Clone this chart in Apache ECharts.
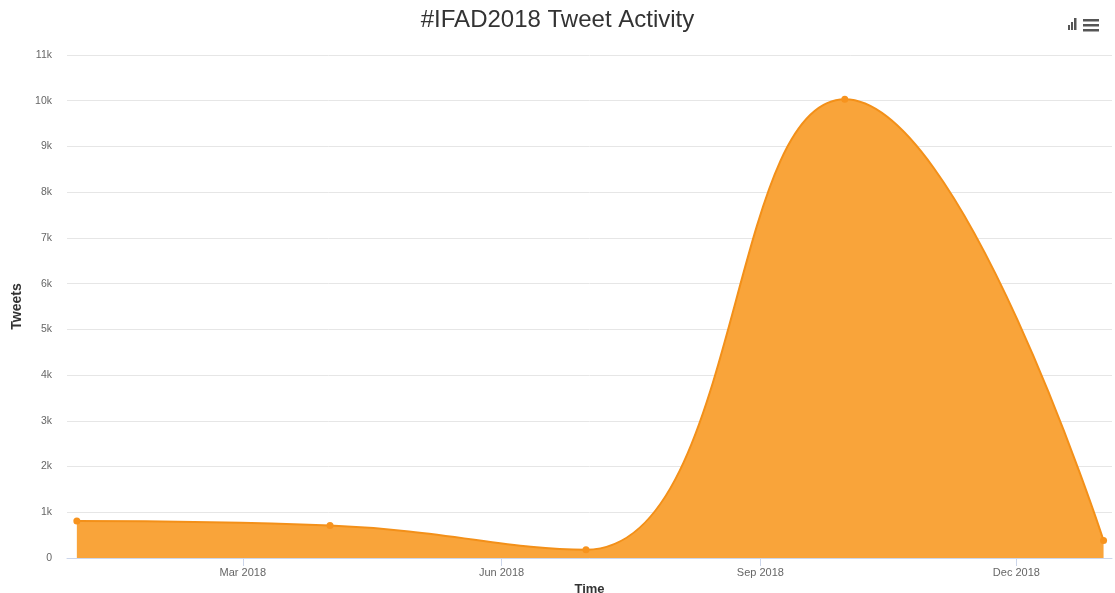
<!DOCTYPE html>
<html>
<head>
<meta charset="utf-8">
<script src="https://cdn.jsdelivr.net/npm/echarts@6/dist/echarts.min.js"></script>
<style>html,body{margin:0;padding:0;background:#fff;}#c{width:1115px;height:593px;}</style>
</head>
<body>
<div id="c"></div>
<script>
const dates = ['2018-01-01', '2018-04-01', '2018-07-01', '2018-10-01', '2019-01-01'];
const tweets = [810, 710, 180, 10030, 380];
const tickDates = ['2018-03-01', '2018-06-01', '2018-09-01', '2018-12-01'];
const tickLabels = ['Mar 2018', 'Jun 2018', 'Sep 2018', 'Dec 2018'];

const ts = s => new Date(s + 'T00:00:00Z').getTime();
const tickTs = tickDates.map(ts);
const day = 86400000;
const FONT = 'Liberation Sans, Arial, sans-serif';

const chart = echarts.init(document.getElementById('c'));
chart.setOption({
  animation: false,
  backgroundColor: '#fff',
  title: {
    text: '#IFAD2018 Tweet Activity',
    left: 'center', top: 3,
    textStyle: {fontFamily: FONT, fontSize: 24, fontWeight: 'normal', color: '#333'}
  },
  grid: {left: 67, right: 3, top: 55, bottom: 35, outerBoundsMode: 'none', containLabel: false},
  xAxis: {
    type: 'value',
    min: ts(dates[0]) - 3.5 * day,
    max: ts(dates[dates.length - 1]) + 3 * day,
    name: 'Time',
    nameLocation: 'middle',
    nameGap: 20,
    nameTextStyle: {fontFamily: FONT, fontSize: 13, fontWeight: 'bold', color: '#333'},
    axisLine: {lineStyle: {color: '#ccd6eb'}},
    axisTick: {show: true, customValues: tickTs, length: 8, lineStyle: {color: '#ccd6eb'}},
    axisLabel: {
      customValues: tickTs,
      formatter: v => { const i = tickTs.indexOf(v); return i >= 0 ? tickLabels[i] : ''; },
      fontFamily: FONT, fontSize: 11, color: '#666', margin: 9
    },
    splitLine: {show: false}
  },
  yAxis: {
    type: 'value',
    min: 0, max: 11000, interval: 1000,
    name: 'Tweets',
    nameLocation: 'middle',
    nameGap: 42,
    nameRotate: 90,
    nameTextStyle: {fontFamily: FONT, fontSize: 14, fontWeight: 'bold', color: '#333'},
    axisLine: {show: false},
    axisTick: {show: false},
    axisLabel: {
      formatter: v => v === 0 ? '0' : (v / 1000) + 'k',
      fontFamily: FONT, fontSize: 10.5, color: '#666', margin: 15
    },
    splitLine: {lineStyle: {color: '#e6e6e6'}}
  },
  series: [{
    type: 'line',
    data: dates.map((d, i) => [ts(d), tweets[i]]),
    smooth: 0.45,
    symbol: 'circle',
    symbolSize: 7,
    itemStyle: {color: '#f7931e'},
    lineStyle: {color: '#f39019', width: 2},
    areaStyle: {color: '#f9a43a', opacity: 1}
  }],
  graphic: [
    {type: 'rect', shape: {x: 1068, y: 25, width: 2, height: 5}, style: {fill: '#555'}},
    {type: 'rect', shape: {x: 1071, y: 22, width: 2, height: 8}, style: {fill: '#555'}},
    {type: 'rect', shape: {x: 1074, y: 18, width: 2.5, height: 12}, style: {fill: '#555'}},
    {type: 'rect', shape: {x: 1083, y: 19, width: 16, height: 2.5}, style: {fill: '#555'}},
    {type: 'rect', shape: {x: 1083, y: 24, width: 16, height: 2.5}, style: {fill: '#555'}},
    {type: 'rect', shape: {x: 1083, y: 29, width: 16, height: 2.5}, style: {fill: '#555'}}
  ]
});
</script>
</body>
</html>
